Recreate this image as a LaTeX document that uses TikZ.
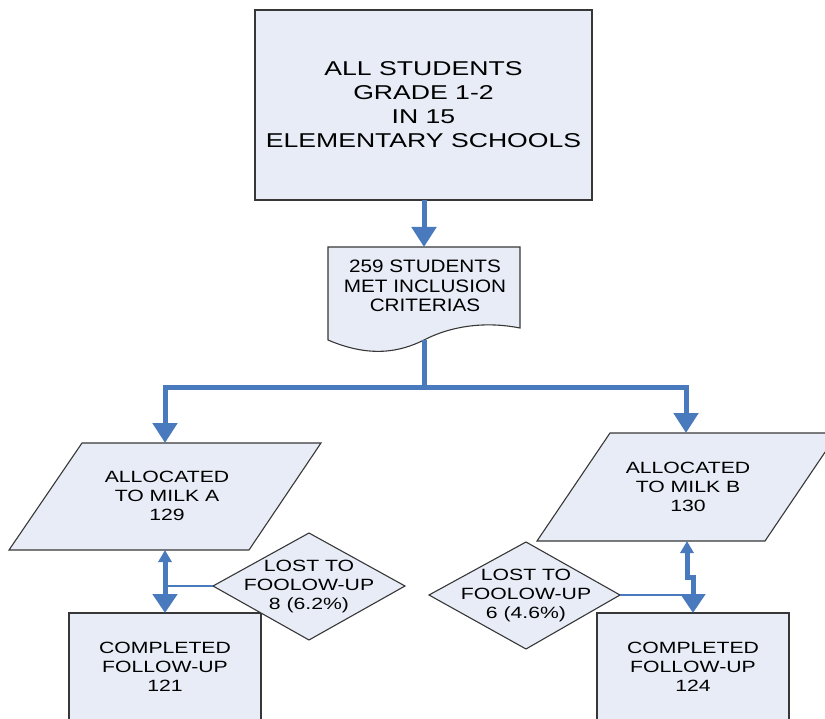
\documentclass[tikz,border=0pt]{standalone}
\usepackage{fontspec}
\setmainfont{Liberation Sans}
\newfontfamily\widefont[FakeStretch=1.3]{Liberation Sans}
\newfontfamily\widerfont[FakeStretch=1.33]{Liberation Sans}
\newfontfamily\docfont[FakeStretch=1.15]{Liberation Sans}
\usetikzlibrary{arrows.meta}
\definecolor{boxfill}{RGB}{231,236,246}
\definecolor{boxline}{RGB}{55,55,55}
\definecolor{flow}{RGB}{74,122,190}
\tikzset{
  shapebox/.style={fill=boxfill,draw=boxline,line width=1.1pt},
  txt/.style={inner sep=0pt,align=center,text=black,font=\widefont\fontsize{16.3}{19}\selectfont},
  conn/.style={draw=flow,line width=5pt},
  bighead/.style={-{Triangle[width=24pt,length=20pt]}},
  twohead/.style={{Triangle[width=13pt,length=12pt]}-{Triangle[width=24pt,length=19pt]}},
  thinconn/.style={draw=flow,line width=1.3pt},
}
\begin{document}
\begin{tikzpicture}[x=1pt,y=-1pt]
\useasboundingbox (0,0) rectangle (825,719);
\clip (0,0) rectangle (825,719);

% population box
\path[shapebox] (255,10) rectangle (592,200);
\node[txt,font=\widerfont\fontsize{20}{24}\selectfont] (all) at (423.5,105)
  {ALL STUDENTS\\GRADE 1-2\\IN 15\\ELEMENTARY SCHOOLS};
\coordinate (allS) at (424,200);

% inclusion document
\path[shapebox] (328,247) -- (520,247) -- (520,328)
  .. controls (490,322) and (455,324) .. (424,340)
  .. controls (400,352) and (370,358) .. (328,340) -- cycle;
\node[txt,font=\docfont\fontsize{18}{19.3}\selectfont] (incl) at (425,286)
  {259 STUDENTS\\MET INCLUSION\\CRITERIAS};
\coordinate (inclN) at (424,247);
\coordinate (inclS) at (424,340);
\coordinate (split) at (424,388);

% allocation parallelograms
\path[shapebox] (82,443) -- (321,443) -- (249,550) -- (9,550) -- cycle;
\node[txt] (milkA) at (167,496) {ALLOCATED\\TO MILK A\\129};
\coordinate (milkAN) at (165,443);
\coordinate (milkAS) at (165,550);

\path[shapebox] (610,433) -- (838,433) -- (765,541) -- (537,541) -- cycle;
\node[txt] (milkB) at (688,487) {ALLOCATED\\TO MILK B\\130};
\coordinate (milkBN) at (686,433);
\coordinate (milkBS) at (687,541);

% completed boxes
\path[shapebox] (69,613) rectangle (261,760);
\node[txt] (doneA) at (165,667) {COMPLETED\\FOLLOW-UP\\121};
\coordinate (doneAN) at (165,613);

\path[shapebox] (597,613) rectangle (789,760);
\node[txt] (doneB) at (693,667) {COMPLETED\\FOLLOW-UP\\124};
\coordinate (doneBN) at (693,613);

% loss diamonds
\path[shapebox] (213,586) -- (309,533) -- (405,586) -- (309,640) -- cycle;
\node[txt] (lostA) at (309,586) {LOST TO\\FOOLOW-UP\\8 (6.2\%)};
\coordinate (lostAW) at (213,586);

\path[shapebox] (429,595) -- (526,542) -- (620,595) -- (526,649) -- cycle;
\node[txt] (lostB) at (526,595) {LOST TO\\FOOLOW-UP\\6 (4.6\%)};
\coordinate (lostBE) at (620,595);

% connectors
\draw[thinconn] (165,586) -- (lostAW);
\draw[thinconn] (lostBE) -- (693,595);

\draw[conn,bighead] (allS) -- (inclN);
\draw[conn] (inclS) -- (split);
\draw[conn,bighead] (split) -| (milkAN);
\draw[conn,bighead] (split) -| (milkBN);
\draw[conn,twohead] (milkAS) -- (doneAN);
\draw[conn,twohead] (milkBS) |- (693,577) -- (doneBN);
\end{tikzpicture}
\end{document}
